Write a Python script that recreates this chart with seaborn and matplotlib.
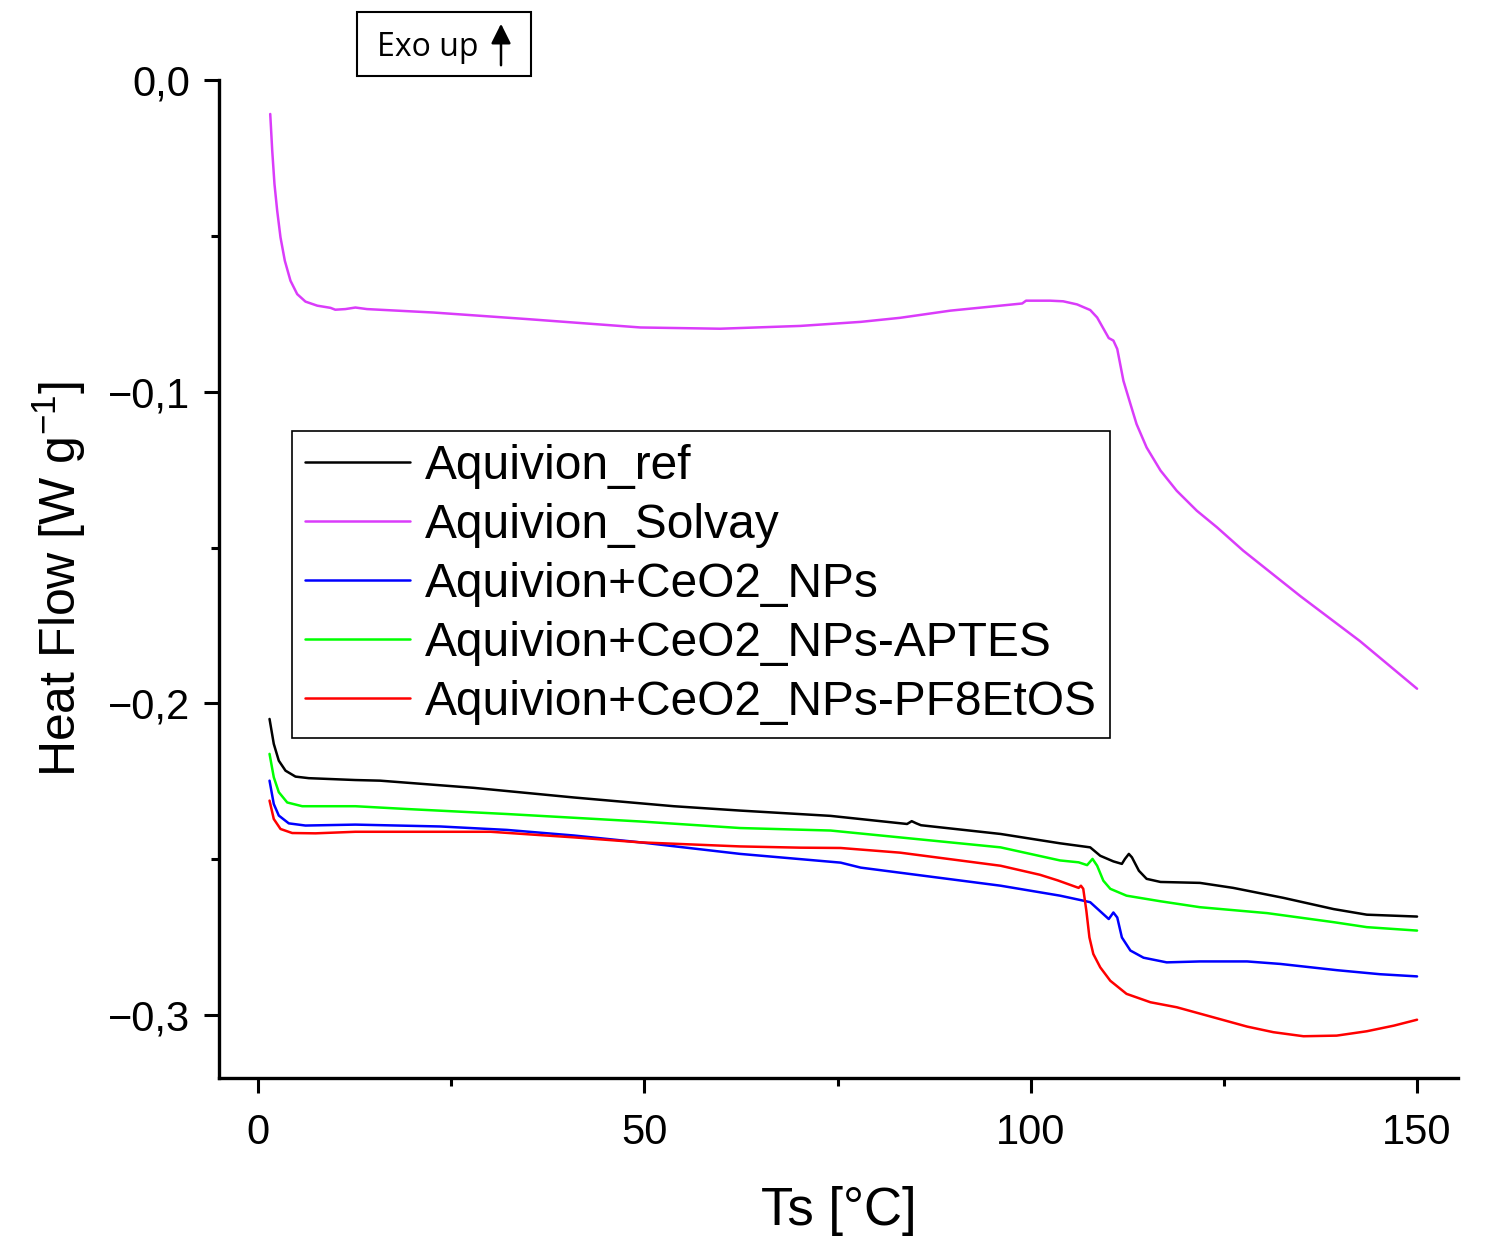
import numpy as np
import pandas as pd
import matplotlib
matplotlib.use("Agg")
import matplotlib.pyplot as plt
from matplotlib.patches import Rectangle, FancyArrowPatch
from matplotlib.ticker import FixedLocator
import seaborn as sns

# ---- DSC heat-flow curves (Ts in °C, heat flow in W/g) ----
sample_names = [
    "Aquivion_ref",
    "Aquivion_Solvay",
    "Aquivion+CeO2_NPs",
    "Aquivion+CeO2_NPs-APTES",
    "Aquivion+CeO2_NPs-PF8EtOS",
]

ref_T = [1.49, 2.04, 2.69, 3.56, 4.85, 6.57, 12.6, 15.8, 27.9, 40.9, 53.8, 62.4,
         74.1, 84.0, 84.6, 85.2, 85.8, 96.1, 103.8, 107.7, 109.0, 110.7, 111.8,
         112.2, 112.7, 113.1, 114.0, 115.0, 116.8, 121.9, 126.2, 132.7, 139.2,
         143.5, 150.0]
ref_HF = [-0.2050, -0.2130, -0.2184, -0.2216, -0.2235, -0.2240, -0.2246, -0.2248,
          -0.2271, -0.2302, -0.2330, -0.2344, -0.2361, -0.2387, -0.2378, -0.2385,
          -0.2391, -0.2419, -0.2449, -0.2462, -0.2489, -0.2507, -0.2515, -0.2499,
          -0.2483, -0.2494, -0.2537, -0.2563, -0.2573, -0.2576, -0.2592, -0.2624,
          -0.2660, -0.2678, -0.2684]

solvay_T = [1.58, 1.84, 2.13, 2.48, 2.91, 3.47, 4.20, 5.07, 6.14, 7.66, 9.38, 10.0,
            11.3, 12.6, 14.1, 22.7, 34.8, 49.5, 59.8, 70.2, 78.0, 83.1, 89.6, 98.9,
            99.4, 102.5, 104.2, 106.0, 107.7, 108.6, 110.1, 110.7, 111.2, 112.0,
            112.9, 113.7, 115.0, 116.8, 118.9, 121.5, 124.1, 127.5, 134.9, 142.6,
            150.0]
solvay_HF = [-0.0109, -0.0227, -0.0334, -0.0419, -0.0505, -0.0580, -0.0644, -0.0687,
             -0.0711, -0.0724, -0.0731, -0.0737, -0.0735, -0.0730, -0.0735, -0.0746,
             -0.0767, -0.0794, -0.0798, -0.0789, -0.0776, -0.0763, -0.0740, -0.0717,
             -0.0708, -0.0708, -0.0710, -0.0720, -0.0738, -0.0762, -0.0828, -0.0836,
             -0.0863, -0.0965, -0.1039, -0.1104, -0.1179, -0.1253, -0.1318, -0.1382,
             -0.1435, -0.1510, -0.1656, -0.1800, -0.1953]

ceo2_T = [1.49, 2.04, 2.69, 3.98, 6.14, 12.6, 23.6, 32.2, 40.9, 49.5, 62.4, 75.4,
          78.0, 96.1, 103.8, 106.8, 107.7, 110.1, 110.7, 111.2, 111.8, 112.9, 114.6,
          117.6, 121.9, 128.0, 132.3, 139.6, 145.2, 150.0]
ceo2_HF = [-0.2248, -0.2323, -0.2360, -0.2385, -0.2392, -0.2389, -0.2395, -0.2406,
           -0.2424, -0.2446, -0.2483, -0.2511, -0.2527, -0.2585, -0.2617, -0.2633,
           -0.2638, -0.2692, -0.2671, -0.2687, -0.2751, -0.2793, -0.2816, -0.2831,
           -0.2828, -0.2828, -0.2836, -0.2856, -0.2869, -0.2876]

aptes_T = [1.49, 2.04, 2.69, 3.78, 5.72, 12.6, 19.3, 32.2, 49.5, 62.4, 74.1, 96.1,
           103.8, 106.2, 107.3, 108.0, 108.6, 109.4, 110.3, 112.4, 116.8, 121.9,
           130.6, 139.2, 143.5, 150.0]
aptes_HF = [-0.2162, -0.2237, -0.2285, -0.2318, -0.2330, -0.2330, -0.2339, -0.2355,
            -0.2379, -0.2400, -0.2408, -0.2462, -0.2504, -0.2510, -0.2519, -0.2499,
            -0.2521, -0.2569, -0.2595, -0.2617, -0.2635, -0.2654, -0.2673, -0.2702,
            -0.2718, -0.2729]

pf8_T = [1.49, 2.04, 2.91, 4.42, 7.44, 12.6, 30.1, 40.9, 49.5, 62.4, 70.2, 75.4,
         83.1, 96.1, 101.2, 103.5, 106.2, 106.5, 106.8, 107.2, 107.6, 108.1, 109.0,
         110.3, 112.4, 115.5, 118.9, 123.6, 128.0, 131.4, 135.3, 139.6, 143.5,
         147.0, 150.0]
pf8_HF = [-0.2312, -0.2371, -0.2403, -0.2416, -0.2417, -0.2412, -0.2412, -0.2430,
          -0.2446, -0.2459, -0.2463, -0.2464, -0.2479, -0.2521, -0.2550, -0.2568,
          -0.2592, -0.2585, -0.2595, -0.2665, -0.2751, -0.2804, -0.2847, -0.2890,
          -0.2932, -0.2959, -0.2975, -0.3007, -0.3037, -0.3055, -0.3068, -0.3066,
          -0.3052, -0.3034, -0.3015]

line_colors = ["#000000", "#DA3CFA", "#0000FF", "#00FF00", "#FF0000"]

x_ticks = [0, 50, 100, 150]
x_tick_labels = ["0", "50", "100", "150"]
y_ticks = [0.0, -0.1, -0.2, -0.3]
y_tick_labels = ["0,0", "\u22120,1", "\u22120,2", "\u22120,3"]

# ---- long-form table ----
curves = [(ref_T, ref_HF), (solvay_T, solvay_HF), (ceo2_T, ceo2_HF),
          (aptes_T, aptes_HF), (pf8_T, pf8_HF)]
frames = []
for name, (t, hf) in zip(sample_names, curves):
    frames.append(pd.DataFrame({"Ts": t, "HF": hf, "sample": name}))
df = pd.concat(frames, ignore_index=True)

sns.set_style("white")
plt.rcParams["font.family"] = ["Liberation Sans", "DejaVu Sans"]
plt.rcParams["mathtext.fontset"] = "custom"
plt.rcParams["mathtext.rm"] = "Liberation Sans"
for key in ["text.color", "axes.labelcolor", "xtick.color", "ytick.color"]:
    plt.rcParams[key] = "black"

fig = plt.figure(figsize=(14.91, 12.39), dpi=100)
ax = fig.add_axes([0.14688, 0.12994, 0.83099, 0.80549])

sns.lineplot(data=df, x="Ts", y="HF", hue="sample", hue_order=sample_names,
             palette=dict(zip(sample_names, line_colors)), estimator=None,
             sort=False, linewidth=1.8, ax=ax)

ax.set_xlim(-5.05, 155.3)
ax.set_ylim(-0.3202, 0.0)

for side in ["top", "right"]:
    ax.spines[side].set_visible(False)
for side in ["left", "bottom"]:
    ax.spines[side].set_linewidth(2.4)
    ax.spines[side].set_color("black")

ax.set_xticks(x_ticks)
ax.set_xticklabels(x_tick_labels)
ax.set_yticks(y_ticks)
ax.set_yticklabels(y_tick_labels)
ax.xaxis.set_minor_locator(FixedLocator([25, 75, 125]))
ax.yaxis.set_minor_locator(FixedLocator([-0.05, -0.15, -0.25]))
ax.tick_params(axis="both", which="major", direction="out", length=11, width=2.2,
               labelsize=30, colors="black", bottom=True, left=True)
ax.tick_params(axis="x", which="major", pad=14)
ax.tick_params(axis="y", which="major", pad=10)
ax.tick_params(axis="both", which="minor", direction="out", length=6, width=2.2,
               bottom=True, left=True)

ax.set_xlabel("Ts [°C]", fontsize=38, labelpad=24)
ax.set_ylabel("Heat Flow [W g$^{\\mathregular{-1}}$]", fontsize=36, labelpad=14)

handles, labels = ax.get_legend_handles_labels()
leg = ax.legend(handles, labels, loc="upper left", bbox_to_anchor=(0.0589, 0.648),
                borderaxespad=0, fontsize=34.5, handlelength=2.2, handletextpad=0.3,
                labelspacing=0.29, borderpad=0.27, fancybox=False, framealpha=1,
                edgecolor="black")
leg.get_frame().set_linewidth(1.2)
for text in leg.get_texts():
    text.set_color("black")
for line in leg.get_lines():
    line.set_linewidth(1.8)

# "Exo up" marker box above the plot
fig.patches.append(Rectangle((357 / 1491, 1 - 76 / 1239), 174 / 1491, 64 / 1239,
                             transform=fig.transFigure, fill=False,
                             edgecolor="black", linewidth=1.5))
fig.text(377 / 1491, 1 - 47 / 1239, "Exo up", fontsize=23, family="Open Sans",
         ha="left", va="center")
fig.patches.append(FancyArrowPatch((501 / 1491, 1 - 68 / 1239),
                                   (501 / 1491, 1 - 21 / 1239),
                                   transform=fig.transFigure, arrowstyle="-|>",
                                   mutation_scale=30, color="black", linewidth=1.8))

fig.savefig("out.png", dpi=100)
